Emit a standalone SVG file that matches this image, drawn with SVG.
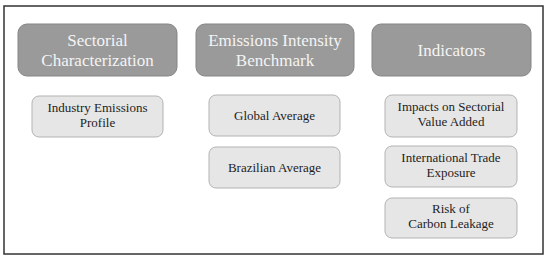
<svg xmlns="http://www.w3.org/2000/svg" width="550" height="260" viewBox="0 0 550 260">
<style>
.frame{fill:#fff;stroke:#333;stroke-width:1.5}
.hdr rect{fill:#9a9a9a;stroke:#858585;stroke-width:1}
.hdr text{fill:#f4f4f4;font-size:17px;text-anchor:middle}
.sub rect{fill:#e6e6e6;stroke:#b3b3b3;stroke-width:1}
.sub text{fill:#1e1e1e;font-size:13px;text-anchor:middle}
</style>
<rect x="0" y="0" width="550" height="260" fill="#fff"/>
<rect class="frame" x="4" y="6" width="539" height="248"/>
<g font-family="'Liberation Serif', 'DejaVu Serif', serif">
<g id="sectorial" class="hdr">
<rect x="18" y="24" width="159" height="52" rx="9"/>
<text x="97.5" y="46">Sectorial</text>
<text x="97.5" y="66">Characterization</text>
</g>
<g id="benchmark" class="hdr">
<rect x="196" y="24" width="158" height="52" rx="9"/>
<text x="275" y="46">Emissions Intensity</text>
<text x="275" y="66">Benchmark</text>
</g>
<g id="indicators" class="hdr">
<rect x="372" y="24" width="159" height="52" rx="9"/>
<text x="451.5" y="56">Indicators</text>
</g>
<g id="industry" class="sub">
<rect x="32" y="96" width="131" height="41" rx="7"/>
<text x="97.5" y="112">Industry Emissions</text>
<text x="97.5" y="127">Profile</text>
</g>
<g id="global" class="sub">
<rect x="209" y="95" width="131" height="41" rx="7"/>
<text x="274.5" y="120">Global Average</text>
</g>
<g id="brazilian" class="sub">
<rect x="209" y="147" width="131" height="41" rx="7"/>
<text x="274.5" y="172">Brazilian Average</text>
</g>
<g id="impacts" class="sub">
<rect x="385" y="95" width="132" height="42" rx="7"/>
<text x="451" y="111">Impacts on Sectorial</text>
<text x="451" y="126">Value Added</text>
</g>
<g id="trade" class="sub">
<rect x="385" y="146" width="132" height="41" rx="7"/>
<text x="451" y="162">International Trade</text>
<text x="451" y="177">Exposure</text>
</g>
<g id="leakage" class="sub">
<rect x="385" y="198" width="132" height="40" rx="7"/>
<text x="451" y="213">Risk of</text>
<text x="451" y="228">Carbon Leakage</text>
</g>
</g>
<g id="connectors"></g>
</svg>
